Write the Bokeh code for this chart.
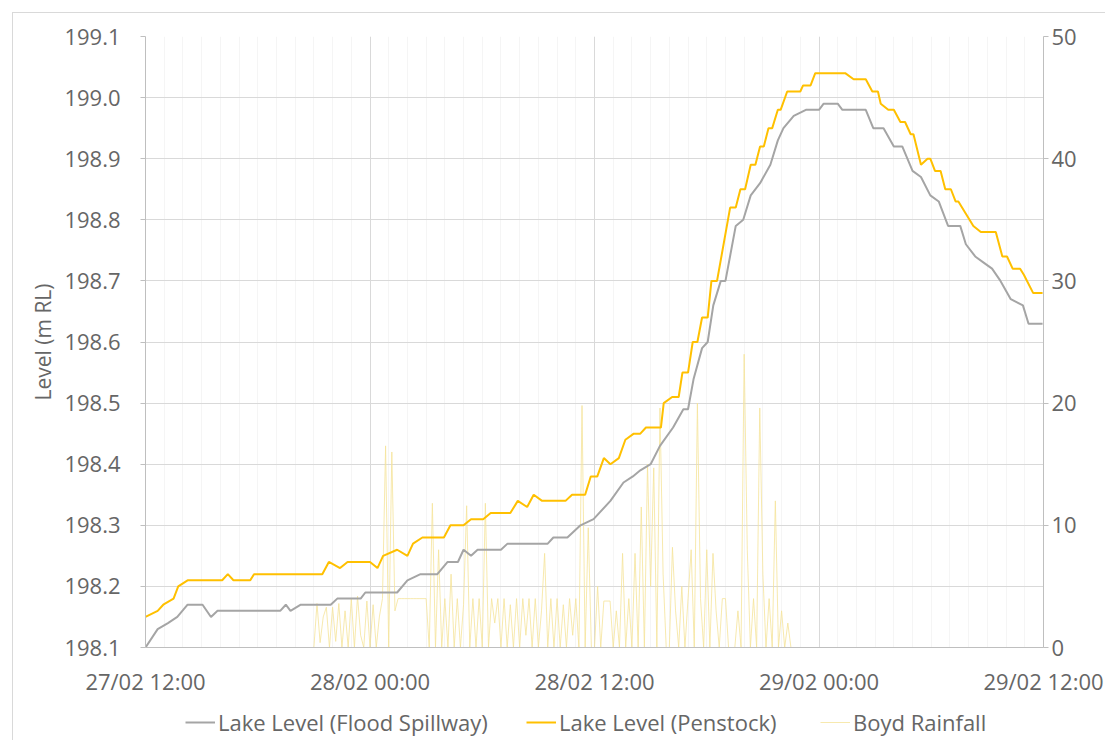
from bokeh.plotting import figure
from bokeh.layouts import column
from bokeh.models import (Range1d, LinearAxis, FixedTicker, PrintfTickFormatter,
                          Legend, LegendItem, ColumnDataSource)
from bokeh.embed import file_html
from bokeh.resources import INLINE

# ---------------- data (hours since 27/02 12:00) ----------------
tick_hours = [0, 12, 24, 36, 48]
tick_labels = ["27/02 12:00", "28/02 00:00", "28/02 12:00", "29/02 00:00", "29/02 12:00"]

spill_hours = [0.0, 0.65, 1.2, 1.7, 2.25, 3.05, 3.5, 3.85, 7.2, 7.5, 7.75, 8.3, 9.9, 10.25,
               11.5, 11.75, 13.45, 14.0, 14.7, 15.6, 16.15, 16.7, 17.0, 17.4, 17.75, 19.0,
               19.35, 21.5, 21.8, 22.55, 23.25, 23.95, 24.85, 25.55, 26.05, 26.45, 27.0,
               27.5, 28.2, 28.75, 29.0, 29.3, 29.75, 30.05, 30.35, 30.75, 31.0, 31.55,
               31.95, 32.35, 32.85, 33.4, 33.8, 34.1, 34.65, 35.3, 36.0, 36.25, 37.0,
               37.25, 38.5, 38.9, 39.45, 40.0, 40.45, 41.0, 41.45, 41.95, 42.4, 42.9,
               43.55, 43.85, 44.35, 44.8, 45.25, 45.7, 46.25, 46.9, 47.2, 47.95]
spill_level = [198.10, 198.13, 198.14, 198.15, 198.17, 198.17, 198.15, 198.16, 198.16, 198.17,
               198.16, 198.17, 198.17, 198.18, 198.18, 198.19, 198.19, 198.21, 198.22, 198.22,
               198.24, 198.24, 198.26, 198.25, 198.26, 198.26, 198.27, 198.27, 198.28, 198.28,
               198.30, 198.31, 198.34, 198.37, 198.38, 198.39, 198.40, 198.43, 198.46, 198.49,
               198.49, 198.54, 198.59, 198.60, 198.66, 198.70, 198.70, 198.79, 198.80, 198.84,
               198.86, 198.89, 198.93, 198.95, 198.97, 198.98, 198.98, 198.99, 198.99, 198.98,
               198.98, 198.95, 198.95, 198.92, 198.92, 198.88, 198.87, 198.84, 198.83, 198.79,
               198.79, 198.76, 198.74, 198.73, 198.72, 198.70, 198.67, 198.66, 198.63, 198.63]

pen_hours = [0.0, 0.65, 0.95, 1.5, 1.75, 2.25, 4.1, 4.4, 4.7, 5.6, 5.8, 9.45, 9.8, 10.4,
             10.8, 12.0, 12.4, 12.7, 13.45, 14.0, 14.3, 14.8, 15.95, 16.3, 17.0, 17.4,
             18.05, 18.45, 19.5, 19.9, 20.4, 20.75, 21.2, 22.45, 22.8, 23.5, 23.8, 24.15,
             24.5, 24.85, 25.3, 25.65, 26.1, 26.45, 26.75, 27.55, 27.7, 28.15, 28.5, 28.7,
             29.0, 29.25, 29.5, 29.75, 30.05, 30.25, 30.55, 31.25, 31.55, 31.8, 32.05,
             32.35, 32.6, 32.85, 33.05, 33.3, 33.5, 33.8, 33.95, 34.3, 35.0, 35.15, 35.55,
             35.8, 37.4, 37.85, 38.5, 38.85, 39.15, 39.3, 39.7, 40.0, 40.35, 40.6, 40.9,
             41.05, 41.45, 41.8, 41.95, 42.2, 42.5, 42.75, 43.05, 43.3, 43.45, 43.85,
             44.25, 44.65, 45.45, 45.8, 46.05, 46.35, 46.75, 46.95, 47.45, 47.95]
pen_level = [198.15, 198.16, 198.17, 198.18, 198.20, 198.21, 198.21, 198.22, 198.21, 198.21,
             198.22, 198.22, 198.24, 198.23, 198.24, 198.24, 198.23, 198.25, 198.26, 198.25,
             198.27, 198.28, 198.28, 198.30, 198.30, 198.31, 198.31, 198.32, 198.32, 198.34,
             198.33, 198.35, 198.34, 198.34, 198.35, 198.35, 198.38, 198.38, 198.41, 198.40,
             198.41, 198.44, 198.45, 198.45, 198.46, 198.46, 198.50, 198.51, 198.51, 198.55,
             198.55, 198.60, 198.60, 198.64, 198.64, 198.70, 198.70, 198.82, 198.82, 198.85,
             198.85, 198.89, 198.89, 198.92, 198.92, 198.95, 198.95, 198.98, 198.98, 199.01,
             199.01, 199.02, 199.02, 199.04, 199.04, 199.03, 199.03, 199.01, 199.01, 198.99,
             198.98, 198.98, 198.96, 198.96, 198.94, 198.94, 198.89, 198.90, 198.90, 198.88,
             198.88, 198.85, 198.85, 198.83, 198.83, 198.81, 198.79, 198.78, 198.78, 198.74,
             198.74, 198.72, 198.72, 198.71, 198.68, 198.68]

# Boyd rainfall, 10-minute readings from 27/02 21:00 (one row per hour)
rain_first_hour = 9.0
rain_step_hours = 1.0 / 6.0
rain_values = [
    0, 3.6, 0.4, 2.5, 3.3, 0,        # 21:00
    3.3, 0.5, 3.6, 0, 3.0, 0,        # 22:00
    4.0, 0, 4.2, 1.0, 0, 3.8,        # 23:00
    0, 3.5, 0, 2.5, 4.0, 16.5,       # 00:00
    0, 16.0, 3.0, 4.0, 4.0, 4.0,     # 01:00
    4.0, 4.0, 4.0, 4.0, 4.0, 4.0,    # 02:00
    4.0, 0, 11.8, 0, 8.0, 0,         # 03:00
    4.0, 0, 6.0, 0, 4.0, 0,          # 04:00
    3.5, 11.6, 0, 4.0, 0, 4.0,       # 05:00
    0, 11.8, 0, 4.0, 2.0, 4.0,       # 06:00
    0, 4.0, 0, 3.5, 0, 4.0,          # 07:00
    0, 4.0, 1.0, 4.0, 0, 4.0,        # 08:00
    0, 3.0, 7.7, 0, 4.0, 0,          # 09:00
    4.0, 0, 3.5, 0, 4.0, 1.0,        # 10:00
    4.0, 0, 19.8, 0, 9.8, 0,         # 11:00
    0, 5.0, 0, 3.8, 3.8, 3.8,        # 12:00
    0, 3.0, 0, 7.7, 0, 4.0,          # 13:00
    0, 7.7, 0, 11.5, 0, 15.0,        # 14:00
    5.0, 14.7, 0, 19.6, 6.0, 0,      # 15:00
    0, 8.2, 3.0, 0, 5.0, 0,          # 16:00
    4.0, 8.0, 0, 20.0, 4.0, 0,       # 17:00
    8.0, 0, 7.7, 3.0, 0, 4.0,        # 18:00
    4.0, 0, 0, 0, 3.0, 0,            # 19:00
    24.0, 8.0, 0, 4.0, 0, 19.6,      # 20:00
    6.0, 0, 4.0, 0, 12.0, 0,         # 21:00
    3.0, 0, 2.0, 0, 0, 0,            # 22:00
]
rain_hours = [0.0] + [rain_first_hour + i * rain_step_hours for i in range(len(rain_values))] + [48.0]
rain_mm = [0.0] + rain_values + [0.0]

left_ticks = [198.1, 198.2, 198.3, 198.4, 198.5, 198.6, 198.7, 198.8, 198.9, 199.0, 199.1]
right_ticks = [0, 10, 20, 30, 40, 50]
series_names = ["Lake Level (Flood Spillway)", "Lake Level (Penstock)", "Boyd Rainfall"]

# ---------------- styling ----------------
FONT = "Open Sans"
TXT = "#666666"
GRID = "#d9d9d9"
AXIS = "#bfbfbf"
C_SPILL = "#a5a5a5"
C_PEN = "#ffc000"
C_RAIN = "#f5e39a"
FS = "22px"

p = figure(width=1092, height=687, x_range=Range1d(0, 48), y_range=Range1d(198.1, 199.1),
           output_backend="svg", toolbar_location=None,
           min_border_left=132, min_border_right=62, min_border_top=23, min_border_bottom=53)
p.outline_line_color = None
p.background_fill_color = "white"
p.border_fill_color = "white"
p.extra_y_ranges = {"rain": Range1d(0, 50)}

# x axis
xax = p.xaxis[0]
xax.ticker = FixedTicker(ticks=tick_hours, minor_ticks=list(range(0, 49)))
xax.major_label_overrides = {h: l for h, l in zip(tick_hours, tick_labels)}
xax.major_tick_line_color = None
xax.minor_tick_line_color = None
xax.axis_line_color = AXIS
xax.major_label_text_font = FONT
xax.major_label_text_font_size = FS
xax.major_label_text_color = TXT
xax.major_label_standoff = 12

# left axis
yax = p.yaxis[0]
yax.ticker = FixedTicker(ticks=left_ticks)
yax.formatter = PrintfTickFormatter(format="%.1f")
yax.axis_label = "Level (m RL)"
yax.axis_label_text_font = FONT
yax.axis_label_text_font_size = "21px"
yax.axis_label_text_font_style = "normal"
yax.axis_label_text_color = TXT
yax.axis_label_standoff = 4
yax.major_label_text_font = FONT
yax.major_label_text_font_size = FS
yax.major_label_text_color = TXT
yax.major_label_standoff = 20
yax.major_tick_out = 5
yax.major_tick_in = 0
yax.major_tick_line_color = AXIS
yax.minor_tick_line_color = None
yax.axis_line_color = AXIS

# right axis
raxis = LinearAxis(y_range_name="rain", ticker=FixedTicker(ticks=right_ticks))
raxis.major_label_text_font = FONT
raxis.major_label_text_font_size = FS
raxis.major_label_text_color = TXT
raxis.major_label_standoff = 3
raxis.major_tick_out = 5
raxis.major_tick_in = 0
raxis.major_tick_line_color = AXIS
raxis.minor_tick_line_color = None
raxis.axis_line_color = AXIS
p.add_layout(raxis, "right")

# grids
p.xgrid.ticker = FixedTicker(ticks=tick_hours, minor_ticks=list(range(0, 49)))
p.xgrid.grid_line_color = GRID
p.xgrid.minor_grid_line_color = "#f5f5f5"
p.ygrid.ticker = FixedTicker(ticks=left_ticks)
p.ygrid.grid_line_color = GRID

# series
rain_src = ColumnDataSource(dict(x=rain_hours, y=rain_mm))
spill_src = ColumnDataSource(dict(x=spill_hours, y=spill_level))
pen_src = ColumnDataSource(dict(x=pen_hours, y=pen_level))

p.line("x", "y", source=rain_src, y_range_name="rain",
       line_color=C_RAIN, line_width=1, line_alpha=0.8)
p.line("x", "y", source=spill_src, line_color=C_SPILL, line_width=2)
p.line("x", "y", source=pen_src, line_color=C_PEN, line_width=2)

# ---------------- legend strip under the chart ----------------
lg = figure(width=1092, height=40, x_range=Range1d(0, 1), y_range=Range1d(0, 1),
            output_backend="svg", toolbar_location=None,
            x_axis_type=None, y_axis_type=None,
            min_border_left=0, min_border_right=0, min_border_top=0, min_border_bottom=0)
lg.outline_line_color = None
lg.grid.visible = False
lg.border_fill_color = "white"
# proxy renderers (their points lie outside the visible range)
proxy = ColumnDataSource(dict(x=[5, 6], y=[5, 6]))
g1 = lg.line("x", "y", source=proxy, line_color=C_SPILL, line_width=2)
g2 = lg.line("x", "y", source=proxy, line_color=C_PEN, line_width=2)
g3 = lg.line("x", "y", source=proxy, line_color=C_RAIN, line_width=1, line_alpha=0.8)

# (frame of this strip is aligned with the chart frame)
for name, rend, loc in zip(series_names, [g1, g2, g3], [(40, 3), (381, 3), (675, 3)]):
    leg = Legend(items=[LegendItem(label=name, renderers=[rend])],
                 orientation="horizontal", location=loc,
                 glyph_width=30, label_standoff=3,
                 border_line_alpha=0, background_fill_alpha=0,
                 label_text_font=FONT, label_text_font_size=FS, label_text_color=TXT,
                 margin=0, padding=0)
    lg.add_layout(leg, "center")

layout = column(p, lg, spacing=0)
layout.margin = (12, 0, 0, 12)
layout.styles = {"border-top": "1px solid #d9d9d9", "border-left": "1px solid #d9d9d9"}
open("out.html", "w").write(file_html(layout, INLINE))
